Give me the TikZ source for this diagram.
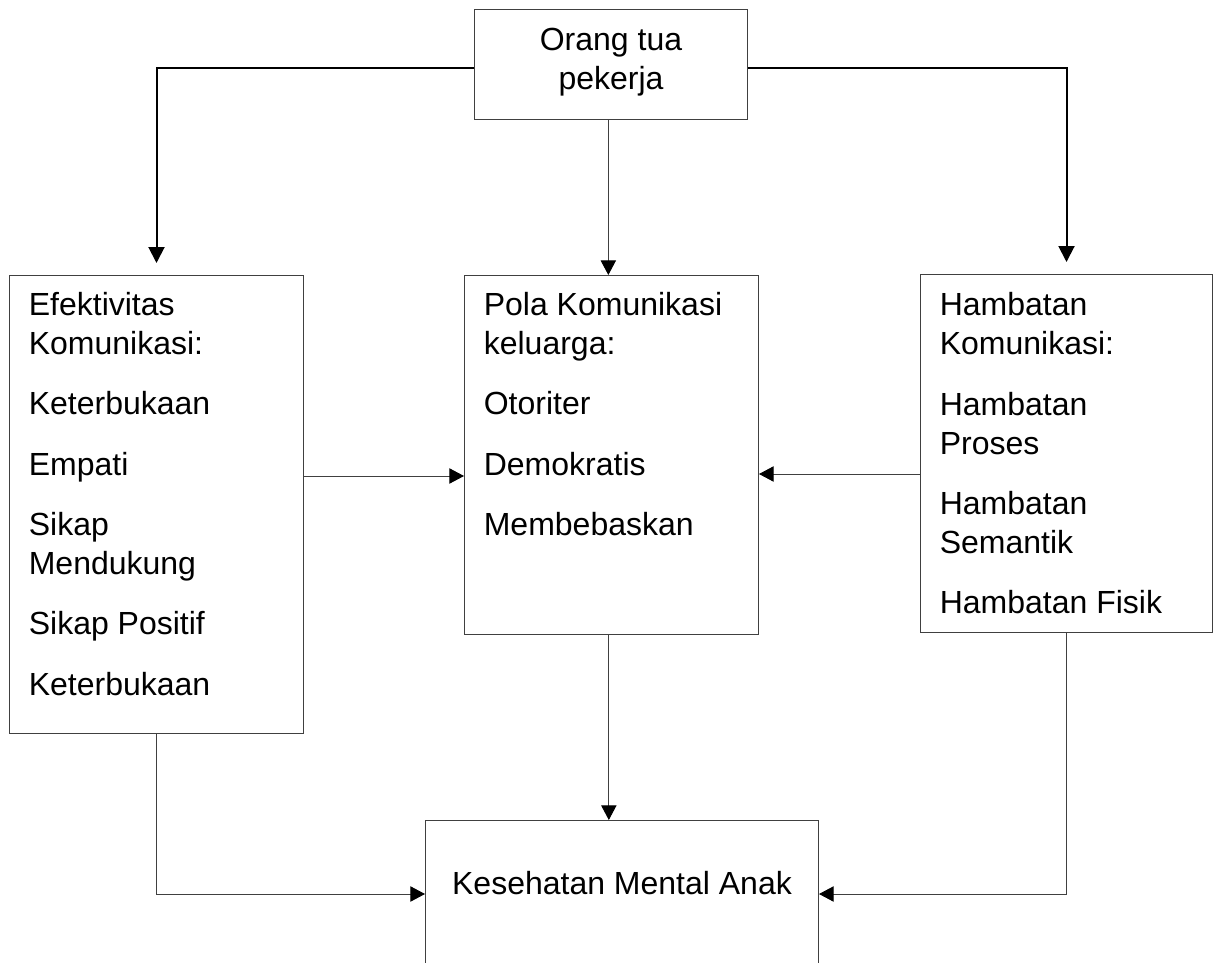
\documentclass[tikz,border=0pt]{standalone}
\usepackage{fontspec}
\setmainfont{Liberation Sans}
\usepackage{tikz}
\usetikzlibrary{
    positioning,
    arrows.meta
}

\begin{document}
\begin{tikzpicture}[
    x=0.75pt, y=-0.75pt,
    font=\fontsize{24}{29.25}\selectfont,
    box/.style={
    	draw=black!75,
    	line width=0.75pt,
    	anchor=north west,
    	inner xsep=14.5pt, inner ysep=0pt
    }, pil/.style={
    	-{Triangle[length=11pt, width=11.5pt, black]},
    	draw=black!75,
    	line width=0.75pt
    }, pilbold/.style={
    	-{Triangle[length=12pt, width=12pt]},
    	line width=1.5pt,
    	shorten >=9pt
    }]
    \clip (0,0) rectangle (1214,963);
    \fill[white] (0,0) rectangle (1214,963);

    %%% BOXES
    \node[box] (ortu) at (474,9) {\parbox[t][82.5pt][t]{175.75pt}{\centering\rule{0pt}{30.5pt}Orang tua\\pekerja}};

    \node[box] (efek) at (9,275) {\parbox[t][343.5pt][t]{191.5pt}{\raggedright\rule{0pt}{30pt}Efektivitas\\Komunikasi:\\[16pt]Keterbukaan\\[16pt]Empati\\[16pt]Sikap\\Mendukung\\[16pt]Sikap Positif\\[16pt]Keterbukaan}};

    \node[box] (pola) at (464,275) {\parbox[t][269.25pt][t]{191.5pt}{\raggedright\rule{0pt}{30pt}Pola Komunikasi\\keluarga:\\[16pt]Otoriter\\[16pt]Demokratis\\[16pt]Membebaskan}};

    \node[box] (hamb) at (920,274) {\parbox[t][268.5pt][t]{190pt}{\raggedright\rule{0pt}{31pt}Hambatan\\Komunikasi:\\[16pt]Hambatan\\Proses\\[16pt]Hambatan\\Semantik\\[16pt]Hambatan Fisik}};

    \node[box] (anak) at (425,820) {\parbox[t][150pt][t]{265.75pt}{\centering\rule{0pt}{55.5pt}Kesehatan Mental Anak}};
    %%% BOXES

    %%% EDGES
    \draw[pilbold] (ortu.west |- 0,68) -| (efek.north);
    \draw[pilbold] (ortu.east |- 0,68) -| (hamb.north);
    \draw[pil] ([xshift=-2pt]ortu.south) -- ([xshift=-2pt]ortu.south |- pola.north);

    \draw[pil] (efek.east |- 0,476) -- (pola.west |- 0,476);
    \draw[pil] (hamb.west |- 0,474) -- (pola.east |- 0,474);

    \draw[pil] ([xshift=-2pt]pola.south) -- ([xshift=-2pt]pola.south |- anak.north);
    \draw[pil] (efek.south) |- (anak.west |- 0,894);
    \draw[pil] (hamb.south) |- (anak.east |- 0,894);
    %%% EDGES

\end{tikzpicture}
\end{document}
